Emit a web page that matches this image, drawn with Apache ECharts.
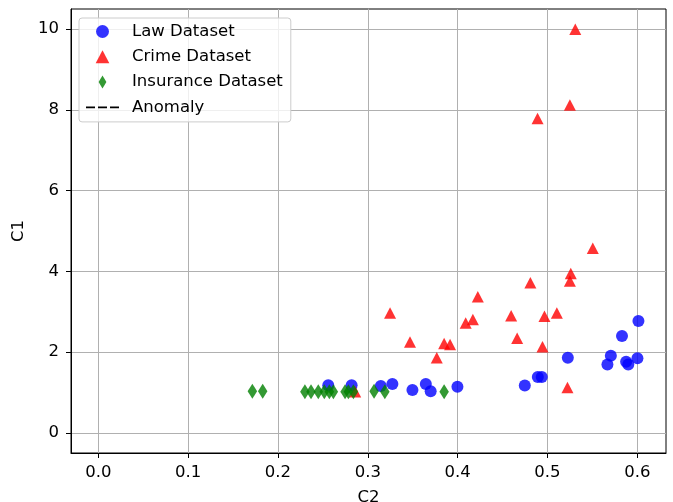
<!DOCTYPE html>
<html><head><meta charset="utf-8">
<script src="https://cdn.jsdelivr.net/npm/echarts@6/dist/echarts.min.js"></script>
<style>html,body{margin:0;padding:0;background:#fff}#c{width:673px;height:502px}</style>
</head><body><div id="c"></div>
<script>
const lawX = [0.6013,0.583,0.5706,0.5668,0.5876,0.590,0.6002,0.5227,0.4893,0.4937,0.4748,0.3998,0.3145,0.3274,0.3497,0.3646,0.370,0.256,0.282];
const lawY = [2.77,2.40,1.91,1.69,1.76,1.69,1.85,1.86,1.38,1.38,1.17,1.14,1.16,1.21,1.06,1.21,1.03,1.18,1.18];
const crimeX = [0.531,0.525,0.489,0.5505,0.526,0.525,0.481,0.4225,0.417,0.409,0.4596,0.4967,0.5105,0.4663,0.4945,0.385,0.3916,0.3768,0.5223,0.3248,0.347,0.286];
const crimeY = [10.0,8.12,7.79,4.57,3.95,3.76,3.72,3.37,2.81,2.72,2.90,2.89,2.97,2.34,2.13,2.21,2.19,1.86,1.12,2.97,2.25,1.02];
const insX = [0.1715,0.183,0.230,0.2368,0.2449,0.2516,0.2572,0.2617,0.2747,0.2784,0.284,0.307,0.319,0.385];
const insY = [1.03,1.03,1.02,1.02,1.02,1.02,1.02,1.02,1.02,1.02,1.02,1.03,1.02,1.02];
const xTicks = [0.0,0.1,0.2,0.3,0.4,0.5,0.6];
const yTicks = [0,2,4,6,8,10];
const seriesNames = ['Law Dataset','Crime Dataset','Insurance Dataset','Anomaly'];

const zip = (a,b) => a.map((v,i)=>[v,b[i]]);
const FONT = 'DejaVu Sans';
const FS = 16.5;
const TRI = 'path://M5,0L10,9.5L0,9.5Z';
const DIA = 'path://M4.5,0L9,7.5L4.5,15L0,7.5Z';
const DASH = 'path://M0,0h9v1.8h-9zM12,0h9v1.8h-9zM24,0h9v1.8h-9z';
const chart = echarts.init(document.getElementById('c'));
const axisCommon = {
  axisLine:{show:true,onZero:false,lineStyle:{color:'#000',width:1}},
  axisTick:{show:true,length:5,lineStyle:{color:'#000',width:1}},
  splitLine:{show:true,lineStyle:{color:'#b0b0b0',width:1}},
  nameTextStyle:{fontFamily:FONT,fontSize:FS,color:'#000'}
};
chart.setOption({
  animation:false,
  backgroundColor:'#fff',
  grid:{left:71,top:9,right:7,bottom:49,show:true,borderColor:'#000',borderWidth:1,backgroundColor:'transparent',
        containLabel:false, outerBoundsMode:'none'},
  xAxis:Object.assign({}, axisCommon, {
    type:'value', min:-0.0304, max:0.632,
    name:'C2', nameLocation:'middle', nameGap:36,
    axisTick:Object.assign({}, axisCommon.axisTick, {customValues:xTicks}),
    axisLabel:{customValues:xTicks, formatter:v=>v.toFixed(1), margin:11, fontFamily:FONT, fontSize:FS, color:'#000'}
  }),
  yAxis:Object.assign({}, axisCommon, {
    type:'value', min:-0.5, max:10.5,
    name:'C1', nameLocation:'middle', nameGap:38, nameRotate:90,
    axisTick:Object.assign({}, axisCommon.axisTick, {customValues:yTicks}),
    axisLabel:{customValues:yTicks, formatter:v=>String(v), margin:12, fontFamily:FONT, fontSize:FS, color:'#000'}
  }),
  legend:{
    orient:'vertical', left:79, top:18,
    itemWidth:33, itemHeight:13, itemGap:6.3,
    padding:[4,8,5,7],
    backgroundColor:'rgba(255,255,255,0.8)', borderColor:'#cccccc', borderWidth:1, borderRadius:3,
    textStyle:{fontFamily:FONT, fontSize:FS, color:'#000', lineHeight:19, padding:[0,0,0,8]},
    data:[
      {name:seriesNames[0], icon:'circle'},
      {name:seriesNames[1], icon:TRI},
      {name:seriesNames[2], icon:DIA},
      {name:seriesNames[3], icon:DASH}
    ]
  },
  series:[
    {name:seriesNames[0], type:'scatter', symbol:'circle', symbolSize:12,
     itemStyle:{color:'#0000ff', opacity:0.8}, data:zip(lawX,lawY)},
    {name:seriesNames[1], type:'scatter', symbol:TRI, symbolSize:[12,11.5],
     itemStyle:{color:'#ff0000', opacity:0.8}, data:zip(crimeX,crimeY)},
    {name:seriesNames[2], type:'scatter', symbol:DIA, symbolSize:[9.5,15],
     itemStyle:{color:'#008000', opacity:0.8}, data:zip(insX,insY)},
    {name:seriesNames[3], type:'scatter', data:[],
     itemStyle:{color:'#000', opacity:1}}
  ]
});
</script></body></html>
